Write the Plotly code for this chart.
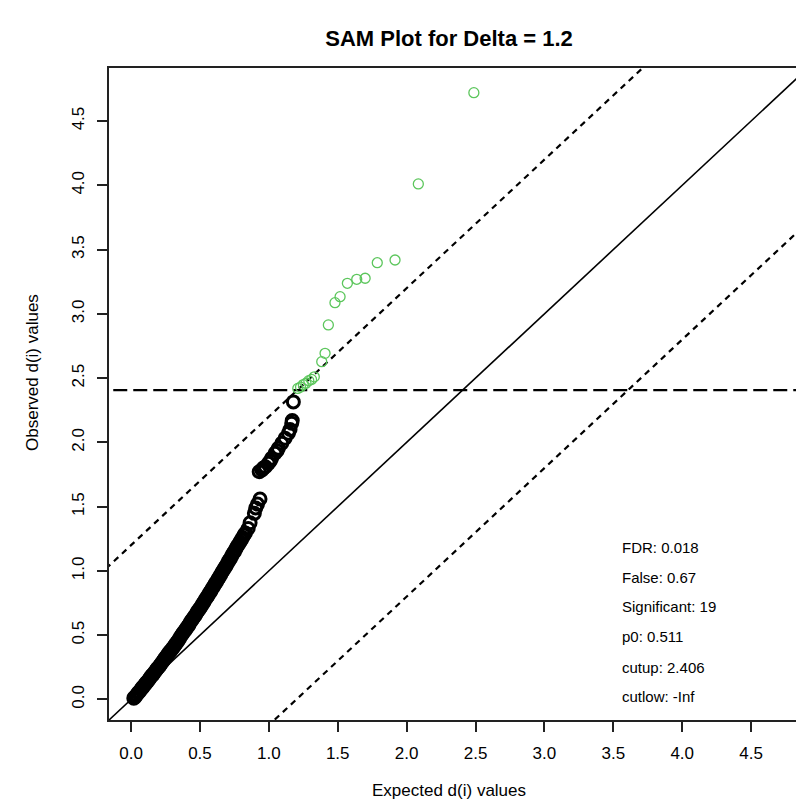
import plotly.graph_objects as go

# ---------------- data ----------------
# non-significant genes (black): expected vs observed d(i)
black_expected = [
    0.02, 0.03, 0.04, 0.05, 0.06, 0.07, 0.08, 0.09, 0.10, 0.11, 0.12, 0.13, 0.14, 0.15,
    0.16, 0.17, 0.18, 0.19, 0.20, 0.21, 0.22, 0.23, 0.24, 0.25, 0.26, 0.27, 0.28, 0.29,
    0.30, 0.31, 0.32, 0.33, 0.34, 0.35, 0.36, 0.37, 0.38, 0.39, 0.40, 0.41, 0.42, 0.43,
    0.44, 0.45, 0.46, 0.47, 0.48, 0.49, 0.50, 0.51, 0.52, 0.53, 0.54, 0.55, 0.56, 0.57,
    0.58, 0.59, 0.60, 0.61, 0.62, 0.63, 0.64, 0.65, 0.66, 0.67, 0.68, 0.69, 0.70, 0.71,
    0.72, 0.73, 0.74, 0.75, 0.76, 0.77, 0.78, 0.79, 0.80, 0.81, 0.82, 0.83,
    0.85, 0.864, 0.895, 0.905, 0.918, 0.936,
    0.93, 0.95, 0.96, 0.975, 0.997, 1.01, 1.02, 1.045, 1.06, 1.069, 1.094, 1.118,
    1.142, 1.154, 1.166, 1.17, 1.178,
]
black_observed = [
    0.01, 0.02, 0.035, 0.05, 0.06, 0.075, 0.09, 0.10, 0.115, 0.13, 0.14, 0.155, 0.17, 0.185,
    0.195, 0.21, 0.225, 0.24, 0.25, 0.265, 0.28, 0.295, 0.31, 0.325, 0.34, 0.355, 0.37, 0.38,
    0.395, 0.41, 0.425, 0.44, 0.455, 0.47, 0.49, 0.505, 0.52, 0.535, 0.55, 0.565, 0.58, 0.60,
    0.615, 0.63, 0.645, 0.66, 0.68, 0.695, 0.71, 0.725, 0.745, 0.76, 0.78, 0.795, 0.81, 0.83,
    0.845, 0.865, 0.88, 0.90, 0.915, 0.935, 0.95, 0.97, 0.99, 1.005, 1.025, 1.04, 1.06, 1.08,
    1.095, 1.115, 1.135, 1.15, 1.17, 1.19, 1.205, 1.225, 1.24, 1.26, 1.28, 1.295,
    1.33, 1.375, 1.448, 1.49, 1.52, 1.56,
    1.772, 1.785, 1.80, 1.81, 1.837, 1.855, 1.876, 1.915, 1.935, 1.954, 1.993, 2.032,
    2.071, 2.10, 2.149, 2.17, 2.315,
]

# significant genes (green)
sig_expected = [1.21, 1.23, 1.25, 1.27, 1.29, 1.31, 1.33, 1.384, 1.408, 1.432,
                1.480, 1.517, 1.570, 1.638, 1.699, 1.787, 1.916, 2.085, 2.488]
sig_observed = [2.42, 2.43, 2.45, 2.46, 2.48, 2.49, 2.51, 2.628, 2.693, 2.914,
                3.087, 3.134, 3.238, 3.269, 3.277, 3.398, 3.419, 4.011, 4.721]

delta = 1.2
cutup = 2.406

info_labels = ["FDR: 0.018", "False: 0.67", "Significant: 19",
               "p0: 0.511", "cutup: 2.406", "cutlow: -Inf"]

tick_vals = [0.0, 0.5, 1.0, 1.5, 2.0, 2.5, 3.0, 3.5, 4.0, 4.5]

# ---------------- layout geometry ----------------
W, H = 796, 807
L, R, T, B = 109, 796, 68, 720
x_range = [-0.16, 4.826]
y_range = [-0.16, 4.913]
FONT = "Liberation Sans, Arial, Helvetica, sans-serif"

lo, hi = -1.0, 6.0

fig = go.Figure()

# reference lines
fig.add_trace(go.Scatter(x=[lo, hi], y=[lo, hi], mode="lines",
                         line=dict(color="black", width=1.6), hoverinfo="skip"))
fig.add_trace(go.Scatter(x=[lo, hi], y=[lo + delta, hi + delta], mode="lines",
                         line=dict(color="black", width=2.2, dash="6px,5px"), hoverinfo="skip"))
fig.add_trace(go.Scatter(x=[lo, hi], y=[lo - delta, hi - delta], mode="lines",
                         line=dict(color="black", width=2.2, dash="6px,5px"), hoverinfo="skip"))
fig.add_trace(go.Scatter(x=[lo, hi], y=[cutup, cutup], mode="lines",
                         line=dict(color="black", width=2.2, dash="14px,6px"), hoverinfo="skip"))

# points
fig.add_trace(go.Scatter(x=black_expected, y=black_observed, mode="markers",
                         marker=dict(symbol="circle-open", size=12, color="black",
                                     line=dict(color="black", width=3)),
                         cliponaxis=True))
fig.add_trace(go.Scatter(x=sig_expected, y=sig_observed, mode="markers",
                         marker=dict(symbol="circle-open", size=10, color="#5cc65c",
                                     line=dict(color="#5cc65c", width=1.3)),
                         cliponaxis=True))

pw, ph = R - L, B - T


def px_to_paper_x(px):
    return (px - L) / pw


def px_to_paper_y(py):
    return (B - py) / ph


annotations = []
# info block
info_y_px = [547, 577, 606, 636, 667, 696]
for lab, py in zip(info_labels, info_y_px):
    annotations.append(dict(text=lab, x=px_to_paper_x(620), y=px_to_paper_y(py),
                            xref="paper", yref="paper", xanchor="left", yanchor="middle",
                            showarrow=False, font=dict(family=FONT, size=15, color="black")))
# axis titles
annotations.append(dict(text="Expected d(i) values", x=px_to_paper_x(449), y=px_to_paper_y(790),
                        xref="paper", yref="paper", xanchor="center", yanchor="middle",
                        showarrow=False, font=dict(family=FONT, size=17, color="black")))
annotations.append(dict(text="Observed d(i) values", x=px_to_paper_x(32), y=px_to_paper_y(373),
                        xref="paper", yref="paper", xanchor="center", yanchor="middle",
                        textangle=-90, showarrow=False,
                        font=dict(family=FONT, size=17, color="black")))

fig.update_layout(
    width=W, height=H,
    margin=dict(l=L, r=W - R, t=T, b=H - B),
    paper_bgcolor="white", plot_bgcolor="white",
    showlegend=False,
    title=dict(text="<b>SAM Plot for Delta = 1.2</b>", xref="container", yref="container",
               x=449 / W, y=1 - 38 / H, xanchor="center", yanchor="middle",
               font=dict(family=FONT, size=22, color="black")),
    annotations=annotations,
    xaxis=dict(range=x_range, tickvals=tick_vals, tickformat=".1f",
               showgrid=False, zeroline=False, showline=True, mirror=True,
               linecolor="#222", linewidth=1.8,
               ticks="outside", ticklen=10, tickwidth=1.6, tickcolor="#222",
               ticklabelstandoff=7,
               tickfont=dict(family=FONT, size=17, color="black")),
    yaxis=dict(range=y_range, tickvals=tick_vals, tickformat=".1f",
               showgrid=False, zeroline=False, showline=True, mirror=False,
               linecolor="#222", linewidth=1.8,
               ticks="outside", ticklen=10, tickwidth=1.6, tickcolor="#222",
               tickangle=-90, ticklabelstandoff=6,
               tickfont=dict(family=FONT, size=17, color="black")),
)

fig.write_html("out.html")
